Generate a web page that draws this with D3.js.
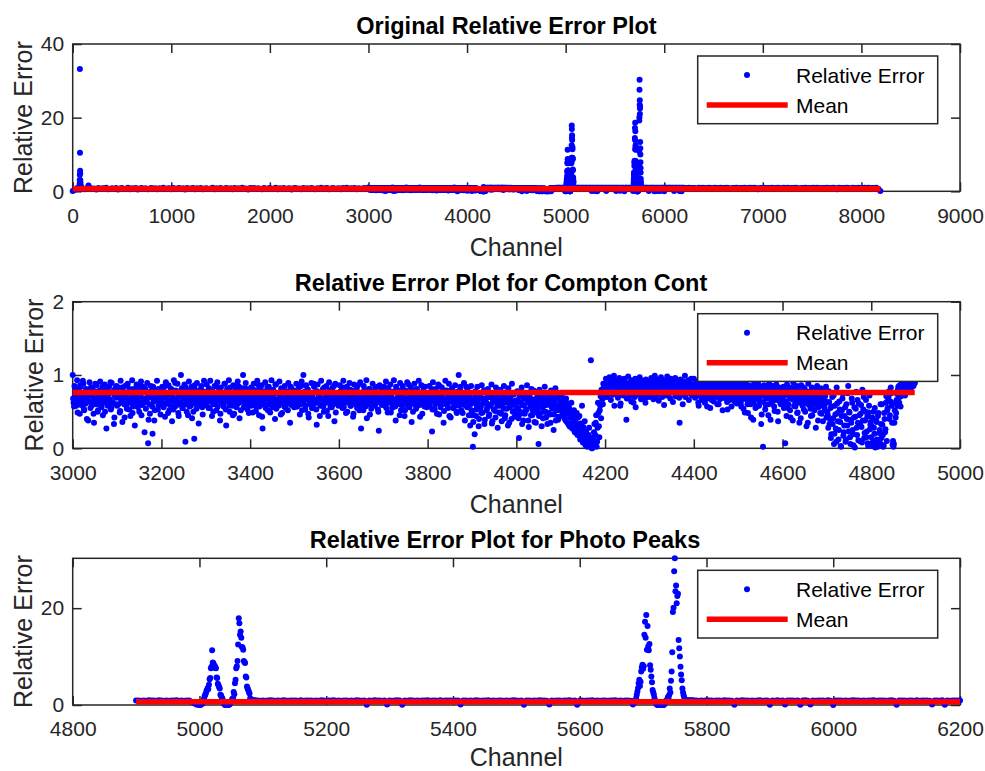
<!DOCTYPE html>
<html><head><meta charset="utf-8">
<script src="https://cdn.jsdelivr.net/npm/d3@7"></script>
<style>
body{margin:0;background:#fff;}
svg{display:block;font-family:"Liberation Sans",Arial,Helvetica,sans-serif;}
</style></head><body>
<svg id="chart" width="985" height="771"></svg>
<script>
// ---------------- DATA ----------------
const titles = ["Original Relative Error Plot", "Relative Error Plot for Compton Cont", "Relative Error Plot for Photo Peaks"];
const xLabel = "Channel";
const yLabel = "Relative Error";
const legendLabels = ["Relative Error", "Mean"];

const xTicks1 = [0, 1000, 2000, 3000, 4000, 5000, 6000, 7000, 8000, 9000];
const yTicks1 = [0, 20, 40];
const xTicks2 = [3000, 3200, 3400, 3600, 3800, 4000, 4200, 4400, 4600, 4800, 5000];
const yTicks2 = [0, 1, 2];
const xTicks3 = [4800, 5000, 5200, 5400, 5600, 5800, 6000, 6200];
const yTicks3 = [0, 20];

const meanAll = 0.71, meanCompton = 0.76, meanPhoto = 0.65;
const meanAllRange = [1, 8192], meanComptonRange = [3000, 4898], meanPhotoRange = [4900, 6200];

// channels 0..2980 every 20
const lowStart = 0, lowStep = 20;
const lowValues = [
.1,.45,.8,.62,.9,.71,.55,.85,1.6,.93,.68,.77,.5,.88,.6,.82,.74,.95,.58,.7,
.83,.64,.9,.52,.76,.87,.61,.72,.94,.57,.81,.69,.88,.47,.78,.92,.63,.85,.55,.73,
.9,.66,.8,.58,.86,.71,.95,.6,.77,.84,.53,.89,.68,.75,.92,.62,.81,.49,.87,.7,
.76,.93,.59,.83,.67,.9,.54,.79,.86,.63,.74,.96,.57,.82,.69,.88,.61,.78,.91,.65,
.84,.56,.89,.72,.8,.63,.94,.68,.77,.52,.87,.73,.91,.6,.83,.7,.58,.92,.66,.79,
.88,.62,.75,.95,.57,.82,.69,.9,.64,.78,.86,.51,.8,.93,.67,.74,.59,.89,.71,.84,
.61,.92,.76,.55,.85,.7,.97,.63,.81,.88,.58,.77,.9,.66,.73,.83,.54,.87,.69,.95,
.6,.82,.74,.9,.57,.86,.68,.79,.93,.65];
// spike near channel 74, every channel
const lowSpikeStart = 66;
const lowSpikeValues = [.8,1.1,.9,1.4,2.0,3.1,4.4,33.2,10.5,5.6,4.9,3.0,2.4,1.8,1.5,1.2,.9,1.1,.8];

// Compton continuum, even channels 3000..4898
const comptonEvenStart = 3000, comptonStep = 2;
const comptonEvenValues = [
1.0,.62,.85,.71,.58,.93,.66,.79,.47,.84,.6,.73,.88,.52,.69,.81,.4,.77,.64,.9,.55,.72,.83,.61,.35,.78,.68,.86,.5,.74,.63,.91,.57,.8,.45,.7,.87,.65,.27,.76,.59,.84,.67,.53,.89,.62,.75,.42,.82,.69,
.58,.83,.71,.49,.92,.66,.36,.78,.6,.85,.73,.54,.88,.64,.81,.44,.7,.93,.57,.76,.31,.68,.87,.62,.8,.5,.74,.91,.59,.84,.67,.22,.79,.63,.89,.07,.72,.47,.85,.69,.2,.83,.38,.77,.65,.92,.53,.81,.7,.46,
.66,.84,.59,.77,.43,.9,.71,.62,.86,.52,.75,.81,.37,.68,.93,.57,.79,.64,.88,.48,.73,.6,1.0,.82,.55,.7,.87,.09,.63,.78,.45,.91,.67,.58,.84,.74,.5,.13,.8,.61,.89,.69,.34,.76,.65,.85,.56,.72,.92,.6,
.71,.87,.63,.55,.8,.92,.68,.44,.77,.6,.85,.73,.52,.9,.66,.79,.38,.83,.62,.74,.57,.88,.69,.31,.81,.64,.93,.5,.76,.7,.58,.86,.47,.72,.84,.61,.91,.67,.41,.78,.65,.82,1.0,.56,.75,.89,.63,.53,.8,.7,
.6,.83,.74,.49,.88,.66,.79,.57,.92,.7,.45,.81,.64,.86,.27,.73,.59,.9,.68,.77,.52,.84,.63,.71,.93,.56,.8,.67,.4,.87,.62,.75,.58,.91,.69,.82,.48,.74,.65,.85,.55,.78,.61,.89,.72,.35,.83,.66,.76,.6,
.79,.64,.88,.57,.72,.83,.46,.69,.91,.61,1.0,.75,.53,.86,.67,.8,.42,.73,.6,.89,.7,.55,.84,.65,.77,.32,.87,.63,.74,.58,.92,.68,.81,.5,.76,.62,.85,.71,.44,.9,.66,.79,.56,.83,.69,.37,.88,.64,.75,.6,
.73,.86,.62,.8,.55,.92,.68,.77,.48,.84,.65,.71,.89,.58,.79,.63,.43,.87,.7,.6,.82,.66,.76,.52,.9,.27,.74,.61,.85,.69,.57,.93,.72,.64,.81,.46,.78,.67,.88,.59,.75,.83,.62,.7,.53,.24,.86,.68,.79,.63,
.66,.84,.58,.91,.73,.49,.8,.62,.87,.7,.55,.77,.93,.64,.38,.82,.69,.75,.6,.89,.52,.72,.85,.67,.44,.79,.63,.9,.57,.74,.68,.83,.36,.76,.61,.88,.7,.54,.81,.65,.92,.59,.73,.86,.47,.78,.62,.84,.69,.56,
.71,.58,.85,.64,.77,.23,.9,.68,.53,.81,.62,.74,.87,.46,.7,.59,.83,.66,.35,.79,.92,.61,.75,.55,.88,.67,.42,.8,.63,.72,.57,.86,.69,.48,.77,1.0,.65,.84,.52,.73,.6,.89,.38,.76,.64,.82,.56,.7,.31,.85,
.45,.02,.66,.19,.78,.53,.84,.61,.4,.72,.57,.86,.49,.68,.33,.79,.62,.55,.81,.44,.7,.59,.87,.37,.64,.75,.51,.83,.66,.28,.73,.58,.8,.47,.69,.62,.85,.41,.76,.54,.67,.82,.35,.71,.6,.88,.5,.74,.43,.65,
.62,.78,.55,.14,.71,.47,.83,.59,.38,.68,.74,.52,.86,.63,.29,.7,.57,.81,.45,.66,.6,.77,.35,.69,.54,.06,.8,.48,.64,.72,.41,.58,.84,.5,.67,.33,.75,.61,.46,.79,.56,.7,.25,.63,.82,.52,.68,.39,.74,.58,
.58,.72,.49,.64,.41,.55,.68,.36,.5,.6,.3,.46,.62,.27,.4,.52,.22,.35,.48,.18,.31,.44,.12,.26,.58,.08,.2,.37,.04,.15,.02,.1,.28,.06,1.2,.0,.14,.03,.33,.18,.45,.09,.62,.3,.52,.71,.8,.67,.88,.76,
.86,.95,.79,.9,.83,.97,.76,.88,.92,.81,.99,.85,.74,.93,.87,.8,.96,.58,.84,.91,.78,.89,.94,.82,.39,.87,.98,.77,.9,.85,.93,.8,.62,.88,.95,.83,.79,.91,.86,.97,.75,.89,.84,.92,.81,.68,.94,.87,.9,.78,
.89,.8,.96,.85,.92,.77,.99,.87,.83,.94,.79,.9,.86,.97,.72,.88,.93,.81,.91,.85,.98,.76,.89,.84,.95,.82,.9,.78,.87,.96,.83,.92,.8,.88,.35,.94,.85,.79,.91,.87,.99,.82,.9,.84,.93,.77,.88,.95,.81,.86,
.95,.83,.71,.9,.86,.62,.93,.79,.88,.68,.84,.97,.75,.89,.81,.57,.92,.85,.74,.9,.66,.87,.8,.94,.72,.86,.78,.91,.6,.83,.88,.76,.93,.82,.69,.87,.79,.9,.53,.84,.77,.92,.85,.71,.89,.81,.64,.86,.78,.91,
.83,.7,.88,.62,.79,.85,.54,.76,.9,.67,.81,.48,.86,.73,.6,.84,.77,.39,.89,.69,.8,.57,.87,.74,.65,.82,.33,.78,.02,.86,.71,.59,.84,.76,.45,.88,.68,.8,.63,.85,.72,.51,.79,.87,.66,.37,.83,.74,.6,.81,
.78,.84,.61,.07,.73,.87,.55,.8,.68,.42,.83,.71,.9,.58,.76,.65,.85,.49,.79,.35,.7,.86,.62,.74,.53,.81,.67,.3,.77,.88,.59,.72,.44,.83,.64,.75,.52,.8,.69,.85,.38,.73,.6,.82,.47,.66,.78,.56,.71,.84,
.62,.45,.78,.33,.55,.19,.7,.41,.06,.58,.27,.83,.48,.12,.64,.36,.02,.52,.74,.22,.44,.09,.6,.31,.85,.5,.15,.39,.68,.25,.04,.56,.43,.77,.18,.35,.61,.1,.47,.29,.8,.53,.14,.38,.66,.23,.07,.49,.72,.32,
.15,.42,.03,.28,.55,.1,.36,.02,.48,.21,.07,.33,.6,.18,.04,.4,.26,.71,.52,.66,.78,.45,.83,.58,.05,.02,.35,.62,.48,.74,.8,.69,.86,.57,.77,.9,.82,.88,.72,.92,.85,.79,.9,.87,.83,.91,.88,.86,.9,.89];
// Compton continuum, odd channels 3001..4899
const comptonOddStart = 3001;
const comptonOddValues = [
.68,.57,.74,.81,.63,.49,.77,.7,.86,.59,.66,.92,.54,.72,.61,.8,.69,.38,.75,.64,.83,.58,.71,.47,.67,.88,.6,.76,.52,.7,.79,.65,.56,.84,.73,.62,.5,.69,.81,.58,.74,.66,.9,.55,.63,.78,.33,.71,.6,.85,
.72,.6,.79,.51,.67,.83,.64,.74,.42,.7,.58,.87,.66,.53,.77,.62,.73,.48,.81,.65,.59,.75,.69,.56,.86,.63,.71,.45,.78,.61,.68,.82,.54,.66,.74,.39,.6,.77,.7,.57,.84,.64,.52,.73,.67,.8,.58,.69,.62,.76,
.63,.78,.56,.7,.85,.61,.67,.48,.74,.59,.81,.66,.72,.53,.64,.89,.58,.76,.69,.44,.71,.62,.8,.55,.68,.74,.6,.83,.5,.66,.73,.57,.79,.64,.41,.7,.61,.86,.67,.54,.75,.63,.72,.58,.81,.68,.46,.65,.77,.6,
.59,.74,.66,.82,.55,.7,.63,.78,.5,.68,.61,.85,.72,.57,.65,.8,.47,.69,.74,.6,.67,.88,.53,.71,.64,.76,.58,.83,.62,.7,.45,.73,.66,.79,.56,.68,.61,.84,.7,.52,.75,.63,.69,.57,.82,.65,.59,.72,.48,.77,
.66,.58,.73,.8,.62,.69,.51,.76,.64,.86,.57,.71,.67,.43,.78,.61,.74,.55,.68,.83,.6,.72,.49,.65,.79,.58,.7,.63,.87,.54,.66,.75,.6,.69,.46,.8,.64,.71,.57,.77,.62,.68,.52,.74,.66,.84,.59,.7,.63,.56,
.71,.63,.57,.79,.66,.74,.6,.85,.52,.69,.64,.77,.58,.72,.81,.47,.67,.62,.75,.55,.7,.88,.61,.66,.53,.78,.64,.71,.44,.68,.6,.76,.57,.83,.65,.7,.51,.73,.62,.79,.56,.67,.74,.6,.85,.63,.49,.71,.66,.58,
.64,.77,.59,.7,.83,.56,.68,.62,.75,.5,.72,.66,.8,.58,.65,.71,.47,.78,.61,.69,.55,.86,.63,.7,.57,.74,.66,.52,.79,.62,.68,.41,.73,.6,.81,.67,.54,.72,.64,.77,.58,.69,.62,.84,.5,.71,.65,.76,.59,.67,
.7,.61,.78,.55,.67,.82,.63,.72,.49,.69,.6,.76,.65,.57,.84,.68,.62,.73,.45,.66,.79,.58,.7,.64,.52,.77,.61,.68,.87,.56,.71,.63,.74,.5,.67,.6,.8,.65,.58,.72,.69,.43,.76,.62,.66,.83,.57,.7,.64,.6,
.62,.75,.57,.69,.81,.53,.66,.72,.6,.78,.47,.68,.63,.85,.56,.71,.65,.74,.51,.67,.6,.79,.58,.7,.44,.73,.64,.82,.55,.68,.62,.76,.5,.69,.66,.58,.8,.63,.71,.48,.74,.59,.67,.84,.56,.7,.45,.65,.6,.52,
.5,.36,.62,.71,.44,.58,.66,.3,.73,.55,.48,.68,.61,.79,.39,.64,.52,.7,.57,.46,.75,.6,.34,.67,.53,.72,.42,.63,.58,.77,.49,.65,.7,.37,.6,.54,.74,.45,.68,.62,.31,.71,.56,.66,.4,.59,.73,.51,.64,.47,
.55,.66,.41,.72,.5,.62,.33,.69,.58,.47,.75,.53,.64,.38,.7,.6,.45,.67,.52,.79,.36,.63,.57,.49,.71,.44,.61,.68,.3,.56,.74,.5,.65,.42,.59,.7,.48,.62,.35,.66,.54,.73,.46,.6,.38,.57,.69,.43,.52,.64,
.6,.52,.66,.44,.57,.38,.62,.47,.33,.55,.42,.29,.5,.36,.45,.24,.39,.31,.2,.42,.27,.16,.34,.22,.11,.29,.17,.07,.23,.12,.05,.18,.03,.09,.14,.0,.06,.22,.1,.35,.02,.28,.48,.15,.58,.41,.72,.6,.83,.7,
.78,.84,.7,.92,.75,.81,.66,.88,.73,.8,.58,.85,.77,.9,.69,.82,.74,.61,.87,.79,.72,.95,.76,.83,.68,.8,.86,.71,.78,.64,.9,.75,.82,.7,.56,.84,.77,.73,.89,.8,.67,.76,.85,.72,.79,.62,.83,.74,.91,.7,
.81,.73,.88,.76,.67,.84,.79,.71,.93,.77,.65,.82,.75,.86,.7,.8,.59,.78,.85,.72,.9,.74,.81,.68,.87,.76,.63,.83,.79,.71,.94,.75,.8,.69,.86,.73,.77,.6,.84,.78,.7,.89,.76,.82,.66,.8,.74,.87,.72,.79,
.77,.69,.85,.72,.8,.58,.76,.83,.66,.74,.89,.7,.62,.81,.75,.68,.86,.73,.55,.79,.71,.84,.64,.77,.7,.82,.6,.75,.88,.67,.73,.8,.52,.76,.69,.83,.71,.63,.78,.85,.66,.74,.57,.8,.72,.87,.68,.75,.61,.79,
.72,.64,.8,.57,.75,.68,.83,.49,.71,.77,.6,.85,.66,.73,.42,.79,.69,.62,.81,.55,.74,.67,.88,.58,.7,.76,.46,.82,.63,.72,.53,.78,.68,.86,.6,.74,.39,.7,.8,.65,.57,.77,.71,.84,.5,.68,.75,.62,.79,.66,
.7,.55,.78,.64,.44,.73,.6,.81,.52,.68,.75,.38,.66,.8,.57,.71,.48,.76,.62,.69,.41,.74,.58,.83,.65,.5,.72,.61,.35,.77,.67,.54,.7,.45,.79,.59,.66,.28,.73,.63,.56,.8,.48,.69,.6,.37,.75,.52,.64,.42,
.5,.28,.63,.4,.14,.57,.33,.72,.2,.46,.09,.61,.37,.25,.53,.03,.44,.68,.17,.31,.56,.12,.4,.75,.23,.49,.06,.35,.62,.19,.42,.01,.54,.28,.66,.11,.45,.32,.59,.08,.38,.7,.21,.5,.15,.43,.03,.58,.26,.36,
.3,.08,.5,.2,.01,.38,.12,.44,.05,.25,.6,.14,.32,.02,.48,.22,.62,.1,.55,.7,.4,.64,.75,.35,.1,.06,.52,.42,.66,.58,.84,.62,.78,.71,.88,.8,.74,.86,.9,.82,.77,.89,.84,.91,.8,.87,.9,.85,.88,.92];

// Photo peaks region 4900..6200
const photoBaseStep = 4;
const photoBaseAStart = 4900;
const photoBaseA = [.92,.95,.9,.93,.88,.96,.91,.94,.89,.97,.92,.9,.95,.87,.93,.91,.96,.9,.94,.88,.92,.95,.6,.3,.05];
const photoPeakAStart = 5000;
const photoPeakA = [
.02,.0,.05,.2,.4,.3,.9,1.2,1.7,2.1,2.4,2.9,3.1,3.5,3.3,4.2,5.3,5.6,7.6,7.9,
11.3,8.8,8.6,7.7,8.1,7.8,7.6,5.7,5.6,4.4,4.1,3.7,3.4,2.1,2.0,1.6,1.4,.9,.5,.2,
.05,.0,.02,.0,.1,.03,.0,.08,.2,.45,.7,1.0,1.3,1.4,2.7,2.2,4.5,5.2,7.6,8.0,
9.1,12.5,17.9,16.9,14.5,15.2,13.9,12.0,11.9,11.4,9.1,8.9,8.7,5.9,5.7,3.8,3.4,3.1,2.7,2.4,
1.4,1.2,.9,.95,.92,.9,.96,.93,.89,.94];
const photoBaseBStart = 5092;
const photoBaseB = [
.93,.9,.95,.88,.92,.96,.91,.89,.94,.9,.97,.92,.88,.95,.91,.93,.89,.96,.9,.94,
.91,.95,.88,.93,.9,.97,.92,.89,.94,.91,.96,.9,.93,.88,.95,.92,.9,.94,.89,.96,
.92,.9,.95,.05,.93,.89,.96,.91,.94,.88,.92,.1,.95,.9,.93,.97,.91,.04,.94,.89,
.96,.92,.9,.95,.88,.93,.91,.97,.89,.94,.92,.9,.96,.88,.93,.91,.95,.89,.92,.94,
.08,.91,.95,.89,.93,.9,.96,.92,.88,.94,.91,.97,.9,.93,.89,.95,.92,.9,.94,.88,
.93,.96,.91,.89,.94,.06,.92,.95,.9,.93,.88,.96,.91,.94,.89,.12,.93,.9,.95,.92,
.89,.94,.91,.96,.9,.93,.03,.92,.95,.88,.94,.91,.97,.9,.93,.89,.95,.92,.9,.94,
.91,.96,.89,.93,.9,.95,.92,.88,.1];
const photoPeakBStart = 5686;
const photoPeakB = [
.9,.6,.7,1.4,2.1,2.8,3.5,4.5,5.2,3.9,4.8,6.9,7.8,8.3,7.5,8.0,14.5,17.2,13.9,18.6,
11.4,16.3,12.1,11.3,12.6,8.2,7.3,5.9,4.7,3.1,2.6,2.1,1.4,.9,.5,.2,.05,.0,.1,.0,
.03,.0,.08,.0,.02,.15,.0,.05,.3,.6,.9,.7,1.1,1.6,1.4,2.0,3.4,2.6,5.0,6.9,
10.9,19.2,20.1,27.6,30.3,23.5,24.7,21.0,22.5,23.0,13.4,11.7,10.0,7.9,6.3,5.1,3.4,2.6,2.0,1.5,
.8,.9,.95,.9,.93,.88,.96,.91,.94,.89,.92,.95,.9,.93];
const photoBaseCStart = 5780;
const photoBaseC = [
.92,.95,.9,.93,.89,.96,.91,.94,.88,.92,.95,.9,.97,.91,.93,.89,.07,.94,.9,.96,
.91,.93,.88,.95,.9,.92,.97,.89,.94,.91,.04,.93,.9,.96,.88,.92,.1,.95,.91,.93,
.89,.94,.06,.92,.96,.9,.12,.93,.88,.95,.91,.94,.9,.97,.89,.02,.93,.91,.95,.9,
.94,.88,.92,.96,.91,.93,.89,.95,.9,.94,.92,.97,.88,.93,.91,.95,.89,.92,.96,.9,
.05,.93,.91,.95,.89,.94,.92,.9,.96,.88,.93,.91,.95,.9,.08,.94,.92,.89,.96,.03,
.93,.9,.95,.91,.94,.92];

// channels 6212..8192 every 20
const highStart = 6212, highStep = 20;
const highValues = [
.92,.88,.97,.85,.93,.9,.62,.95,.87,.99,.91,.84,.96,.89,.78,.94,.9,.86,.98,.92,
.87,.95,.91,.7,.93,.88,.97,.84,.92,.9,.96,.81,.89,.94,.87,.99,.91,.55,.93,.9,
.96,.86,.92,.89,.98,.83,.91,.95,.88,.74,.94,.9,.97,.85,.92,.88,.96,.91,.67,.93,
.89,.97,.84,.92,.9,.95,.87,.99,.91,.8,.93,.88,.96,.86,.92,.94,.9,.58,.97,.89,
.93,.87,.95,.91,.72,.98,.88,.92,.96,.85,.9,.94,.89,.97,.83,.92,.9,.95,.6,.1];

// ---------------- BUILD ----------------
function seq(start, step, values) { return values.map((v, i) => ({ x: start + i * step, y: v })); }
const comptonPts = [].concat(
  seq(comptonEvenStart, comptonStep, comptonEvenValues),
  seq(comptonOddStart, comptonStep, comptonOddValues)).sort((a, b) => a.x - b.x);
const photoPts = [].concat(
  seq(photoBaseAStart, photoBaseStep, photoBaseA),
  seq(photoPeakAStart, 1, photoPeakA),
  seq(photoBaseBStart, photoBaseStep, photoBaseB),
  seq(photoPeakBStart, 1, photoPeakB),
  seq(photoBaseCStart, photoBaseStep, photoBaseC));
const allPts = [].concat(
  seq(lowStart, lowStep, lowValues),
  seq(lowSpikeStart, 1, lowSpikeValues),
  comptonPts, photoPts,
  seq(highStart, highStep, highValues));

const L = 72.7, R = 960;
const panels = [
  { title: titles[0], titleX: 506.5, top: 44, bottom: 191.3, xDom: [0, 9000], xT: xTicks1, yDom: [0, 40], yT: yTicks1,
    pts: allPts, mean: meanAll, mRange: meanAllRange, ylabX: 31.7, xlabY: 255.7 },
  { title: titles[1], titleX: 501, top: 301.7, bottom: 448.3, xDom: [3000, 5000], xT: xTicks2, yDom: [0, 2], yT: yTicks2,
    pts: comptonPts, mean: meanCompton, mRange: meanComptonRange, ylabX: 42.7, xlabY: 512.7 },
  { title: titles[2], titleX: 505, top: 558.3, bottom: 705, xDom: [4800, 6200], xT: xTicks3, yDom: [0, d3.max(photoPts, d => d.y)], yT: yTicks3,
    pts: photoPts, mean: meanPhoto, mRange: meanPhotoRange, ylabX: 31.7, xlabY: 765.5 }
];

const svg = d3.select('#chart');
const axisColor = '#262626';
const tickLen = 9;
const dotR = 3;

panels.forEach(p => {
  const x = d3.scaleLinear().domain(p.xDom).range([L, R]);
  const y = d3.scaleLinear().domain(p.yDom).range([p.bottom, p.top]);
  const g = svg.append('g');

  const styleAxis = sel => {
    sel.select('.domain').remove();
    sel.selectAll('line').attr('stroke', axisColor).attr('stroke-width', 1.5);
    sel.selectAll('text').attr('fill', axisColor).style('font-size', '21px')
      .style('font-family', '"Liberation Sans",Arial,Helvetica,sans-serif');
  };
  g.append('g').attr('transform', `translate(0,${p.bottom})`)
    .call(d3.axisBottom(x).tickValues(p.xT).tickFormat(d3.format('d')).tickSizeInner(-tickLen).tickSizeOuter(0).tickPadding(16.5))
    .call(styleAxis);
  g.append('g').attr('transform', `translate(0,${p.top})`)
    .call(d3.axisTop(x).tickValues(p.xT).tickFormat('').tickSizeInner(-tickLen).tickSizeOuter(0))
    .call(styleAxis);
  g.append('g').attr('transform', `translate(${L},0)`)
    .call(d3.axisLeft(y).tickValues(p.yT).tickFormat(d3.format('d')).tickSizeInner(-tickLen).tickSizeOuter(0).tickPadding(8.5))
    .call(styleAxis);
  g.append('g').attr('transform', `translate(${R},0)`)
    .call(d3.axisRight(y).tickValues(p.yT).tickFormat('').tickSizeInner(-tickLen).tickSizeOuter(0))
    .call(styleAxis);
  g.append('rect').attr('x', L).attr('y', p.top).attr('width', R - L).attr('height', p.bottom - p.top)
    .attr('fill', 'none').attr('stroke', axisColor).attr('stroke-width', 1.5);

  g.append('g').selectAll('circle').data(p.pts).join('circle')
    .attr('cx', d => x(d.x)).attr('cy', d => y(d.y)).attr('r', dotR).attr('fill', '#0000ff');

  g.append('path')
    .datum(p.mRange.map(c => ({ x: c, y: p.mean })))
    .attr('d', d3.line().x(d => x(d.x)).y(d => y(d.y)))
    .attr('stroke', '#ff0000').attr('stroke-width', 5.5).attr('fill', 'none');

  g.append('text').attr('x', p.titleX).attr('y', p.top - 10.5).attr('text-anchor', 'middle')
    .style('font-size', '23.5px').style('font-weight', 'bold').attr('fill', '#000').text(p.title);
  g.append('text').attr('x', (L + R) / 2).attr('y', p.xlabY).attr('text-anchor', 'middle')
    .style('font-size', '25px').attr('fill', axisColor).text(xLabel);
  g.append('text').attr('transform', `translate(${p.ylabX},${(p.top + p.bottom) / 2}) rotate(-90)`)
    .attr('text-anchor', 'middle').style('font-size', '25px').attr('fill', axisColor).text(yLabel);

  const lx = 697.7, ly = p.top + 12, lw = 240, lh = 67.7;
  const lg = g.append('g');
  lg.append('rect').attr('x', lx).attr('y', ly).attr('width', lw).attr('height', lh)
    .attr('fill', '#fff').attr('stroke', axisColor).attr('stroke-width', 1.5);
  const r1 = ly + 19, r2 = ly + 49;
  lg.append('circle').attr('cx', lx + 49.3).attr('cy', r1).attr('r', dotR).attr('fill', '#0000ff');
  lg.append('line').attr('x1', lx + 9).attr('x2', lx + 90).attr('y1', r2).attr('y2', r2)
    .attr('stroke', '#ff0000').attr('stroke-width', 5.5);
  lg.append('text').attr('x', lx + 98.3).attr('y', r1 + 7.7).style('font-size', '21px').attr('fill', '#000').text(legendLabels[0]);
  lg.append('text').attr('x', lx + 98.3).attr('y', r2 + 7.7).style('font-size', '21px').attr('fill', '#000').text(legendLabels[1]);
});
</script>
</body></html>
